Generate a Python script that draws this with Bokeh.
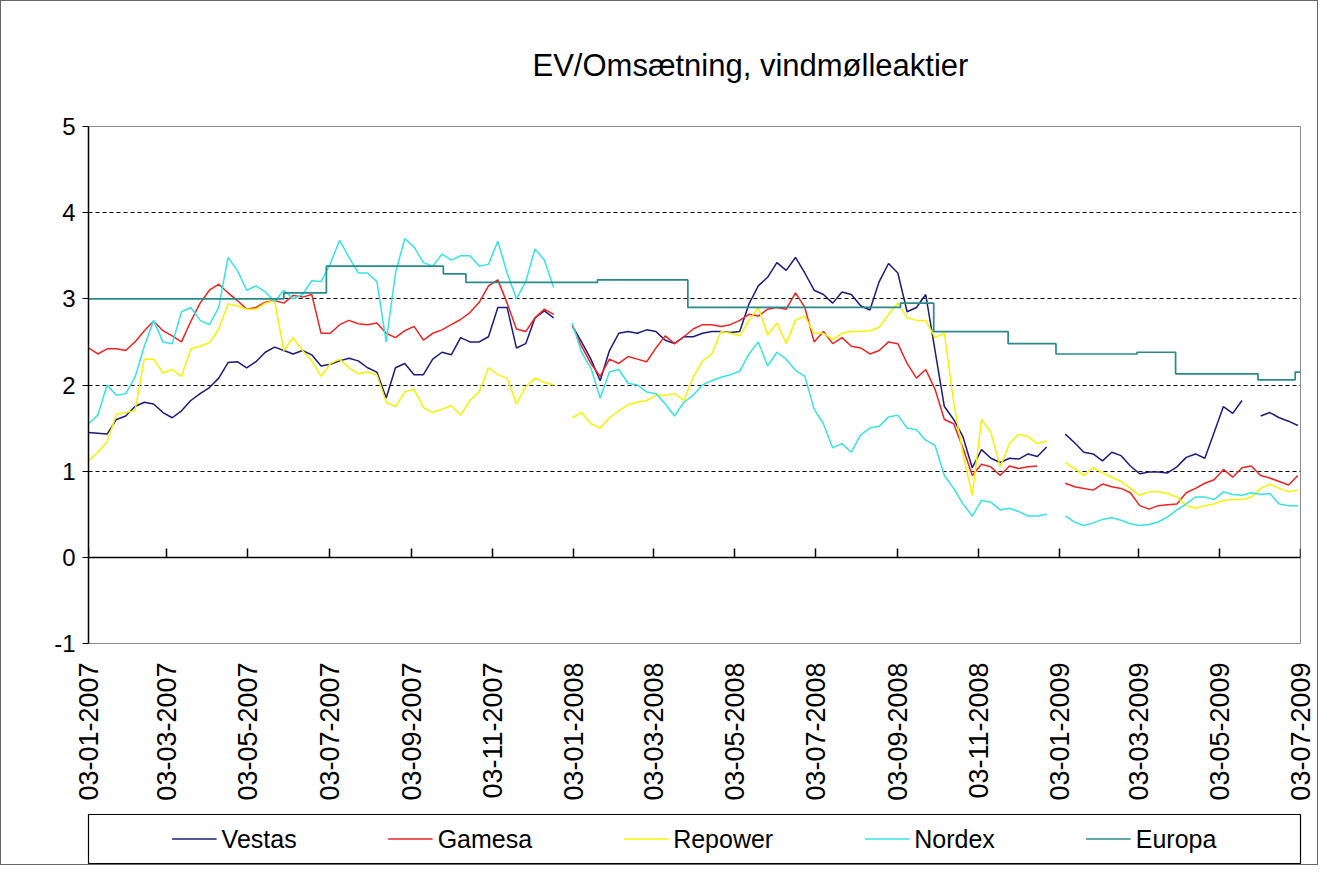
import math
from datetime import datetime
import numpy as np
import pandas as pd
from bokeh.plotting import figure
from bokeh.models import (Range1d, FixedTicker, DatetimeAxis, DatetimeTickFormatter, Title,
                          Legend, LegendItem, CustomJSTickFormatter, ColumnDataSource)
from bokeh.layouts import column
from bokeh.embed import file_html
from bokeh.resources import INLINE

NaN = float("nan")

title_text = "EV/Omsætning, vindmølleaktier"
series_names = ["Vestas", "Gamesa", "Repower", "Nordex", "Europa"]

tick_labels = ["03-01-2007", "03-03-2007", "03-05-2007", "03-07-2007", "03-09-2007",
               "03-11-2007", "03-01-2008", "03-03-2008", "03-05-2008", "03-07-2008",
               "03-09-2008", "03-11-2008", "03-01-2009", "03-03-2009", "03-05-2009",
               "03-07-2009"]
y_ticks = [-1, 0, 1, 2, 3, 4, 5]
y_tick_labels = ["-1", "0", "1", "2", "3", "4", "5"]
grid_ticks = [1, 2, 3, 4]

# weekly observations starting 2007-01-03
first_week = "2007-01-03"
n_weeks = 131

vestas = [1.45, 1.44, 1.43, 1.60, 1.64, 1.75, 1.80, 1.78, 1.68, 1.62,
          1.70, 1.82, 1.90, 1.97, 2.08, 2.26, 2.27, 2.20, 2.27, 2.38,
          2.44, 2.40, 2.36, 2.40, 2.35, 2.22, 2.24, 2.28, 2.31, 2.28,
          2.20, 2.15, 1.85, 2.20, 2.25, 2.12, 2.12, 2.30, 2.38, 2.35,
          2.55, 2.50, 2.50, 2.56, 2.90, 2.90, 2.43, 2.48, 2.78, 2.86,
          2.78, NaN, 2.69, 2.50, 2.30, 2.05, 2.40, 2.60, 2.62, 2.60,
          2.64, 2.62, 2.52, 2.48, 2.56, 2.56, 2.60, 2.62, 2.62, 2.61,
          2.62, 2.94, 3.15, 3.25, 3.42, 3.33, 3.48, 3.30, 3.10, 3.05,
          2.95, 3.08, 3.05, 2.92, 2.87, 3.20, 3.41, 3.30, 2.85, 2.90,
          3.05, 2.40, 1.75, 1.60, 1.40, 1.04, 1.25, 1.15, 1.10, 1.15,
          1.14, 1.20, 1.17, 1.28, NaN, 1.43, 1.33, 1.22, 1.20, 1.12,
          1.22, 1.18, 1.06, 0.97, 0.99, 0.99, 0.98, 1.05, 1.16, 1.20,
          1.15, 1.45, 1.75, 1.67, 1.82, NaN, 1.64, 1.68, 1.62, 1.58,
          1.53]

gamesa = [2.43, 2.36, 2.42, 2.42, 2.40, 2.50, 2.63, 2.74, 2.63, 2.57,
          2.50, 2.74, 2.95, 3.10, 3.17, 3.07, 2.98, 2.88, 2.90, 2.96,
          2.98, 2.95, 3.04, 3.02, 3.05, 2.60, 2.60, 2.70, 2.75, 2.71,
          2.70, 2.72, 2.60, 2.55, 2.63, 2.68, 2.52, 2.60, 2.64, 2.70,
          2.76, 2.84, 2.96, 3.15, 3.22, 2.95, 2.65, 2.62, 2.78, 2.88,
          2.82, NaN, 2.69, 2.45, 2.25, 2.10, 2.30, 2.25, 2.33, 2.30,
          2.27, 2.43, 2.57, 2.48, 2.56, 2.65, 2.70, 2.70, 2.68, 2.70,
          2.75, 2.82, 2.80, 2.88, 2.90, 2.88, 3.07, 2.90, 2.50, 2.62,
          2.48, 2.55, 2.45, 2.43, 2.36, 2.40, 2.50, 2.48, 2.25, 2.08,
          2.18, 1.95, 1.60, 1.55, 1.27, 0.95, 1.08, 1.05, 0.95, 1.06,
          1.03, 1.05, 1.06, NaN, NaN, 0.86, 0.82, 0.80, 0.78, 0.85,
          0.82, 0.80, 0.75, 0.60, 0.56, 0.60, 0.61, 0.62, 0.75, 0.80,
          0.86, 0.90, 1.02, 0.93, 1.04, 1.06, 0.95, 0.92, 0.88, 0.84,
          0.95]

repower = [1.12, 1.22, 1.34, 1.66, 1.68, 1.70, 2.30, 2.30, 2.14, 2.18,
           2.10, 2.42, 2.45, 2.49, 2.65, 2.94, 2.92, 2.88, 2.88, 2.95,
           2.98, 2.40, 2.55, 2.40, 2.28, 2.10, 2.25, 2.30, 2.20, 2.13,
           2.15, 2.12, 1.80, 1.75, 1.92, 1.95, 1.74, 1.68, 1.72, 1.76,
           1.65, 1.82, 1.92, 2.20, 2.12, 2.08, 1.78, 1.98, 2.08, 2.03,
           2.00, NaN, 1.62, 1.68, 1.55, 1.50, 1.62, 1.70, 1.77, 1.80,
           1.82, 1.88, 1.88, 1.90, 1.82, 2.09, 2.28, 2.36, 2.62, 2.60,
           2.57, 2.75, 2.90, 2.58, 2.72, 2.48, 2.75, 2.80, 2.60, 2.60,
           2.53, 2.60, 2.62, 2.62, 2.63, 2.67, 2.82, 2.95, 2.78, 2.75,
           2.75, 2.55, 2.60, 1.80, 1.20, 0.72, 1.60, 1.45, 1.05, 1.32,
           1.43, 1.40, 1.32, 1.35, NaN, 1.10, 1.03, 0.95, 1.04, 0.98,
           0.93, 0.88, 0.80, 0.72, 0.76, 0.76, 0.74, 0.70, 0.60, 0.57,
           0.60, 0.62, 0.66, 0.67, 0.67, 0.70, 0.80, 0.85, 0.80, 0.76,
           0.78]

nordex = [1.55, 1.65, 2.00, 1.88, 1.90, 2.09, 2.45, 2.75, 2.50, 2.48,
          2.85, 2.90, 2.75, 2.70, 2.90, 3.48, 3.33, 3.10, 3.15, 3.08,
          2.97, 3.10, 3.00, 3.05, 3.21, 3.20, 3.41, 3.68, 3.48, 3.30,
          3.30, 3.20, 2.50, 3.30, 3.70, 3.60, 3.42, 3.38, 3.52, 3.45,
          3.50, 3.50, 3.38, 3.40, 3.67, 3.30, 3.00, 3.20, 3.58, 3.45,
          3.13, NaN, 2.72, 2.38, 2.20, 1.85, 2.15, 2.18, 2.02, 2.00,
          1.92, 1.90, 1.78, 1.64, 1.80, 1.88, 2.00, 2.05, 2.09, 2.12,
          2.16, 2.36, 2.50, 2.22, 2.38, 2.30, 2.17, 2.10, 1.72, 1.55,
          1.27, 1.32, 1.22, 1.42, 1.50, 1.52, 1.63, 1.65, 1.50, 1.48,
          1.36, 1.30, 0.95, 0.80, 0.62, 0.48, 0.66, 0.64, 0.55, 0.57,
          0.53, 0.48, 0.48, 0.50, NaN, 0.48, 0.41, 0.37, 0.40, 0.44,
          0.46, 0.43, 0.39, 0.37, 0.38, 0.41, 0.47, 0.55, 0.62, 0.70,
          0.70, 0.67, 0.76, 0.73, 0.72, 0.75, 0.73, 0.74, 0.62, 0.60,
          0.60]

europa_dates = ["2007-01-03", "2007-05-30", "2007-07-01", "2007-09-27", "2007-10-14",
                "2008-01-21", "2008-03-29", "2008-09-05", "2008-09-30", "2008-11-25",
                "2008-12-31", "2009-03-02", "2009-03-31", "2009-06-01", "2009-06-29",
                "2009-07-03"]
europa = [3.00, 3.07, 3.38, 3.29, 3.19, 3.22, 2.90, 2.95, 2.62, 2.48,
          2.36, 2.38, 2.13, 2.06, 2.15, 2.15]

colors = {"Vestas": "#1c1c7a", "Gamesa": "#ee2424", "Repower": "#f4f400",
          "Nordex": "#38e3e3", "Europa": "#2a8a8a"}

FONT = "Liberation Sans"

weeks = pd.date_range(first_week, periods=n_weeks, freq="7D")
tick_dates = [datetime.strptime(s, "%d-%m-%Y") for s in tick_labels]
epoch = datetime(1970, 1, 1)
tick_ms = [(d - epoch).total_seconds() * 1000.0 for d in tick_dates]

src = ColumnDataSource(dict(date=weeks, Vestas=np.array(vestas), Gamesa=np.array(gamesa),
                            Repower=np.array(repower), Nordex=np.array(nordex)))
esrc = ColumnDataSource(dict(date=pd.to_datetime(europa_dates), Europa=europa))

P_W, P_H = 1316, 805
BL, BR, BT = 87, 17, 124
FRAME_H = 518

p = figure(width=P_W, height=P_H, x_axis_type="datetime",
           x_range=Range1d(tick_dates[0], tick_dates[-1]), y_range=Range1d(y_ticks[0], y_ticks[-1]),
           toolbar_location=None, output_backend="svg",
           min_border_left=BL, min_border_right=BR, min_border_top=BT,
           min_border_bottom=P_H - BT - FRAME_H)
p.background_fill_color = "white"
p.border_fill_color = "white"
p.outline_line_color = "#8c8c8c"
p.outline_line_width = 1

p.title = Title(text=title_text, align="left", offset=444, text_font=FONT,
                text_font_size="31px", text_font_style="normal", text_color="black",
                standoff=88)

# grid
p.xgrid.visible = False
p.ygrid.ticker = FixedTicker(ticks=grid_ticks)
p.ygrid.grid_line_color = "black"
p.ygrid.grid_line_dash = "4 3"
p.ygrid.grid_line_width = 1

# y axis
ya = p.yaxis[0]
ya.ticker = FixedTicker(ticks=y_ticks)
ya.major_label_overrides = {t: s for t, s in zip(y_ticks, y_tick_labels)}
ya.axis_line_color = "black"
ya.axis_line_width = 1.5
ya.major_tick_line_color = "black"
ya.major_tick_out = 6
ya.major_tick_in = 0
ya.minor_tick_line_color = None
ya.major_label_text_font = FONT
ya.major_label_text_font_size = "24px"
ya.major_label_text_color = "black"
ya.major_label_standoff = 7

# x label axis (bottom)
xa = p.xaxis[0]
xa.ticker = FixedTicker(ticks=tick_ms)
fmt = "%d-%m-%Y"
xa.formatter = DatetimeTickFormatter(milliseconds=fmt, seconds=fmt, minsec=fmt, minutes=fmt,
                                     hourmin=fmt, hours=fmt, days=fmt, months=fmt, years=fmt)
xa.axis_line_color = None
xa.major_tick_line_color = None
xa.minor_tick_line_color = None
xa.major_label_orientation = math.pi / 2
xa.major_label_text_font = FONT
xa.major_label_text_font_size = "27px"
xa.major_label_text_color = "black"
xa.major_label_standoff = 13

# category axis line at y = 0 with upward ticks
zero_axis = DatetimeAxis(ticker=FixedTicker(ticks=tick_ms), fixed_location=0,
                         formatter=CustomJSTickFormatter(code="return ''"))
zero_axis.axis_line_color = "black"
zero_axis.axis_line_width = 1.5
zero_axis.major_tick_line_color = "black"
zero_axis.major_tick_line_width = 1.5
zero_axis.major_tick_out = 9
zero_axis.major_tick_in = 0
zero_axis.minor_tick_line_color = None
p.add_layout(zero_axis, "above")

for name in ["Vestas", "Gamesa", "Repower", "Nordex"]:
    p.line("date", name, source=src, line_color=colors[name], line_width=1.5)
p.step("date", "Europa", source=esrc, mode="after", line_color=colors["Europa"], line_width=1.7)

# legend box
L_H = 58
p2 = figure(width=P_W, height=L_H, x_range=Range1d(0, 1), y_range=Range1d(0, 1),
            x_axis_type=None, y_axis_type=None, toolbar_location=None, output_backend="svg",
            min_border_left=BL, min_border_right=BR, min_border_top=8, min_border_bottom=1)
p2.outline_line_color = "black"
p2.outline_line_width = 1.2
p2.background_fill_color = "white"
p2.border_fill_color = "white"
items = []
for name in series_names:
    # legend proxy: a single missing value, so nothing is drawn in the box itself
    r = p2.line(x=[NaN], y=[NaN], line_color=colors[name], line_width=1.5)
    items.append(LegendItem(label=name, renderers=[r]))
leg = Legend(items=items, orientation="horizontal", location="center",
             label_text_font=FONT, label_text_font_size="25px", label_text_color="black",
             glyph_width=45, label_standoff=5, spacing=91, padding=0, margin=0,
             border_line_color=None, background_fill_alpha=0)
p2.add_layout(leg, "center")

layout = column(p, p2, styles={"border": "1px solid #666"})

open("out.html", "w").write(file_html(layout, INLINE))
